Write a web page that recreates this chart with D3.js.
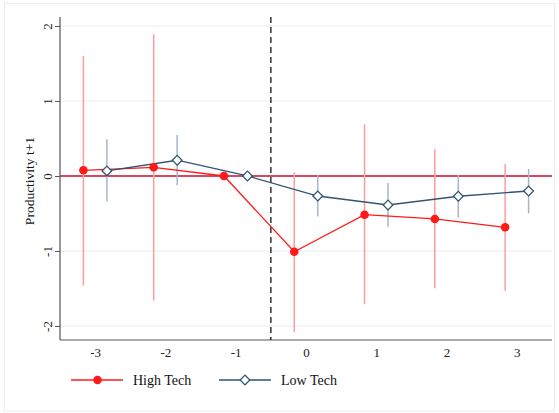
<!DOCTYPE html>
<html><head><meta charset="utf-8">
<script src="https://cdn.jsdelivr.net/npm/d3@7"></script>
<style>body{margin:0;background:#fff}svg{display:block}</style>
</head><body>
<script>
const periods = [-3, -2, -1, 0, 1, 2, 3];
const highTech = [0.076, 0.116, 0, -1.01, -0.516, -0.573, -0.684];
const highLo   = [-1.46, -1.66, null, -2.08, -1.71, -1.497, -1.53];
const highHi   = [1.60, 1.89, null, 0.05, 0.69, 0.356, 0.16];
const lowTech  = [0.067, 0.21, 0, -0.267, -0.387, -0.27, -0.2];
const lowLo    = [-0.34, -0.124, null, -0.54, -0.676, -0.556, -0.498];
const lowHi    = [0.49, 0.547, null, 0.013, -0.093, 0.017, 0.093];
const yTicks = [-2, -1, 0, 1, 2];
const xTicks = [-3, -2, -1, 0, 1, 2, 3];
const seriesNames = ["High Tech", "Low Tech"];

const W = 559, H = 413;
const svg = d3.select("body").append("svg").attr("width", W).attr("height", H);
const font = "'Liberation Serif','Times New Roman',serif";

// outer frame
svg.append("rect").attr("x", 4.5).attr("y", 3.5).attr("width", 550).attr("height", 407.5)
  .attr("fill", "#fff").attr("stroke", "#e6eef0").attr("stroke-width", 1);

const x = d3.scaleLinear().domain([-3.5, 3.5]).range([60, 552]);
const y = d3.scaleLinear().domain([-2.187, 2.12]).range([340, 17]);
const off = 0.167;
const fmt = d => String(d);

// gridlines
svg.append("g").selectAll("line").data(yTicks).join("line")
  .attr("x1", 60).attr("x2", 552).attr("y1", d => y(d)).attr("y2", d => y(d))
  .attr("stroke", "#e6eff1").attr("stroke-width", 1);

// zero line
svg.append("line").attr("x1", 60).attr("x2", 552).attr("y1", y(0)).attr("y2", y(0))
  .attr("stroke", "#c8102e").attr("stroke-width", 1.3);

// axes
const yAxis = d3.axisLeft(y).tickValues(yTicks).tickSize(5).tickFormat(fmt);
const gy = svg.append("g").attr("transform", "translate(60,0)").call(yAxis);
gy.select(".domain").attr("stroke", "#555").attr("stroke-width", 1.2).attr("d", `M-0,${y.range()[1]}V${y.range()[0]}`);
gy.selectAll(".tick line").attr("stroke", "#555");
gy.selectAll(".tick text").attr("font-family", font).attr("font-size", 13).attr("fill", "#222")
  .attr("transform", `translate(-13,0) rotate(-90)`)
  .attr("x", 0).attr("dy", "0.35em").attr("text-anchor", "middle");

const xAxis = d3.axisBottom(x).tickValues(xTicks).tickSize(0).tickPadding(8).tickFormat(fmt);
const gx = svg.append("g").attr("transform", "translate(0,340)").call(xAxis);
gx.select(".domain").attr("stroke", "#555").attr("stroke-width", 1.2).attr("d", `M60,0H552`);
gx.selectAll(".tick text").attr("font-family", font).attr("font-size", 13).attr("fill", "#222");

// y label
svg.append("text").attr("transform", `translate(34,181) rotate(-90)`)
  .attr("text-anchor", "middle").attr("font-family", font).attr("font-size", 13.5).attr("fill", "#111")
  .text("Productivity t+1");

// dashed line
svg.append("line").attr("x1", x(-0.5)).attr("x2", x(-0.5)).attr("y1", 17).attr("y2", 340)
  .attr("stroke", "#333").attr("stroke-width", 1.5).attr("stroke-dasharray", "6,4");

const hiC = "#ff1a1a", hiCI = "#ff9c9c", loC = "#2f5475", loCI = "#a6b6c8";

// CI lines
periods.forEach((p, i) => {
  if (highLo[i] !== null) svg.append("line").attr("x1", x(p - off)).attr("x2", x(p - off))
    .attr("y1", y(highLo[i])).attr("y2", y(highHi[i])).attr("stroke", hiCI).attr("stroke-width", 1.5);
  if (lowLo[i] !== null) svg.append("line").attr("x1", x(p + off)).attr("x2", x(p + off))
    .attr("y1", y(lowLo[i])).attr("y2", y(lowHi[i])).attr("stroke", loCI).attr("stroke-width", 1.5);
});

const line = d3.line().x(d => d[0]).y(d => d[1]);
svg.append("path").attr("d", line(periods.map((p, i) => [x(p - off), y(highTech[i])])))
  .attr("fill", "none").attr("stroke", hiC).attr("stroke-width", 1.3);
svg.append("path").attr("d", line(periods.map((p, i) => [x(p + off), y(lowTech[i])])))
  .attr("fill", "none").attr("stroke", loC).attr("stroke-width", 1.3);

svg.append("g").selectAll("circle").data(periods).join("circle")
  .attr("cx", (p) => x(p - off)).attr("cy", (p, i) => y(highTech[i])).attr("r", 4.3).attr("fill", hiC);
const dia = d3.symbol().type(d3.symbolDiamond2).size(60);
svg.append("g").selectAll("path").data(periods).join("path")
  .attr("d", dia).attr("transform", (p, i) => `translate(${x(p + off)},${y(lowTech[i])})`)
  .attr("fill", "#fff").attr("stroke", loC).attr("stroke-width", 1.3);

// legend
const lg = svg.append("g");
lg.append("line").attr("x1", 71).attr("x2", 123).attr("y1", 380).attr("y2", 380).attr("stroke", hiC).attr("stroke-width", 1.3);
lg.append("circle").attr("cx", 97.5).attr("cy", 380).attr("r", 4.3).attr("fill", hiC);
lg.append("text").attr("x", 133).attr("y", 380).attr("dy", "0.35em").attr("font-family", font).attr("font-size", 14).attr("fill", "#111").text(seriesNames[0]);
lg.append("line").attr("x1", 219).attr("x2", 271).attr("y1", 380).attr("y2", 380).attr("stroke", loC).attr("stroke-width", 1.3);
lg.append("path").attr("d", dia).attr("transform", "translate(245,380)").attr("fill", "#fff").attr("stroke", loC).attr("stroke-width", 1.3);
lg.append("text").attr("x", 281).attr("y", 380).attr("dy", "0.35em").attr("font-family", font).attr("font-size", 14).attr("fill", "#111").text(seriesNames[1]);
</script>
</body></html>
